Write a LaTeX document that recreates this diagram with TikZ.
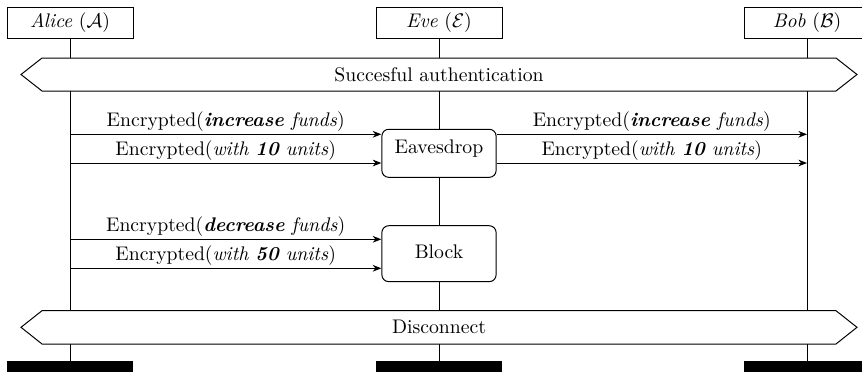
\documentclass[tikz,border=0pt]{standalone}
\usetikzlibrary{arrows.meta,backgrounds}
\begin{document}
\begin{tikzpicture}[x=0.5076pt, y=-0.5076pt, line width=0.5pt,
  head/.style={draw, fill=white, minimum width=63.96pt, minimum height=15.74pt, inner sep=0pt},
  foot/.style={fill=black, minimum width=63.96pt, minimum height=7.1pt, inner sep=0pt},
  actbox/.style={draw, fill=white, rounded corners=3.5pt, minimum width=58pt, inner sep=0pt, text height=6.94pt},
  msg/.style={-{Stealth[length=4.4pt, width=3.4pt, inset=1.4pt]}},
  lbl/.style={above, inner sep=1pt},
  band/.style={draw, fill=white, line join=miter}]
\useasboundingbox (0,0) rectangle (862,371);
\clip (0,0) rectangle (862,371);

% instance heads and feet
\node[head] (hA) at (70,22.5) {\textit{Alice} ($\mathcal{A}$)};
\node[head] (hE) at (439,22.5) {\textit{Eve} ($\mathcal{E}$)};
\node[head] (hB) at (807,22.5) {\textit{Bob} ($\mathcal{B}$)};
\node[foot] (fA) at (70,368) {};
\node[foot] (fE) at (439,368) {};
\node[foot] (fB) at (807,368) {};

% lifelines, behind everything else
\begin{scope}[on background layer]
\draw (hA.south) -- (fA.north);
\draw (hE.south) -- (fE.north);
\draw (hB.south) -- (fB.north);
\end{scope}

% global conditions
\draw[band] (21,74.5) -- (42,58) -- (836,58) -- (857,74.5) -- (836,91) -- (42,91) -- cycle;
\node (auth) at (439,74.5) {Succesful authentication};
\draw[band] (21,327.3) -- (42,310.7) -- (836,310.7) -- (857,327.3) -- (836,344) -- (42,344) -- cycle;
\node (disc) at (439,327.3) {Disconnect};

% actions of Eve
\node[actbox, minimum height=24.4pt, text depth=6.94pt] (eav) at (439,153.3) {Eavesdrop};
\node[actbox, minimum height=28.4pt, text depth=2.3pt] (blk) at (439,253.7) {Block};

% message anchors on the lifelines
\coordinate (a1) at (70,134.3);
\coordinate (a2) at (70,163);
\coordinate (a3) at (70,239.3);
\coordinate (a4) at (70,268.3);
\coordinate (b1) at (807,134.3);
\coordinate (b2) at (807,163);

% messages
\draw[msg] (a1) -- (a1 -| eav.west) node[lbl, midway] {Encrypted(\textit{\textbf{increase} funds})};
\draw[msg] (a2) -- (a2 -| eav.west) node[lbl, midway] {Encrypted(\textit{with \textbf{10} units})};
\draw[msg] (b1 -| eav.east) -- (b1) node[lbl, midway] {Encrypted(\textit{\textbf{increase} funds})};
\draw[msg] (b2 -| eav.east) -- (b2) node[lbl, midway] {Encrypted(\textit{with \textbf{10} units})};
\draw[msg] (a3) -- (a3 -| blk.west) node[lbl, midway] {Encrypted(\textit{\textbf{decrease} funds})};
\draw[msg] (a4) -- (a4 -| blk.west) node[lbl, midway] {Encrypted(\textit{with \textbf{50} units})};
\end{tikzpicture}
\end{document}
